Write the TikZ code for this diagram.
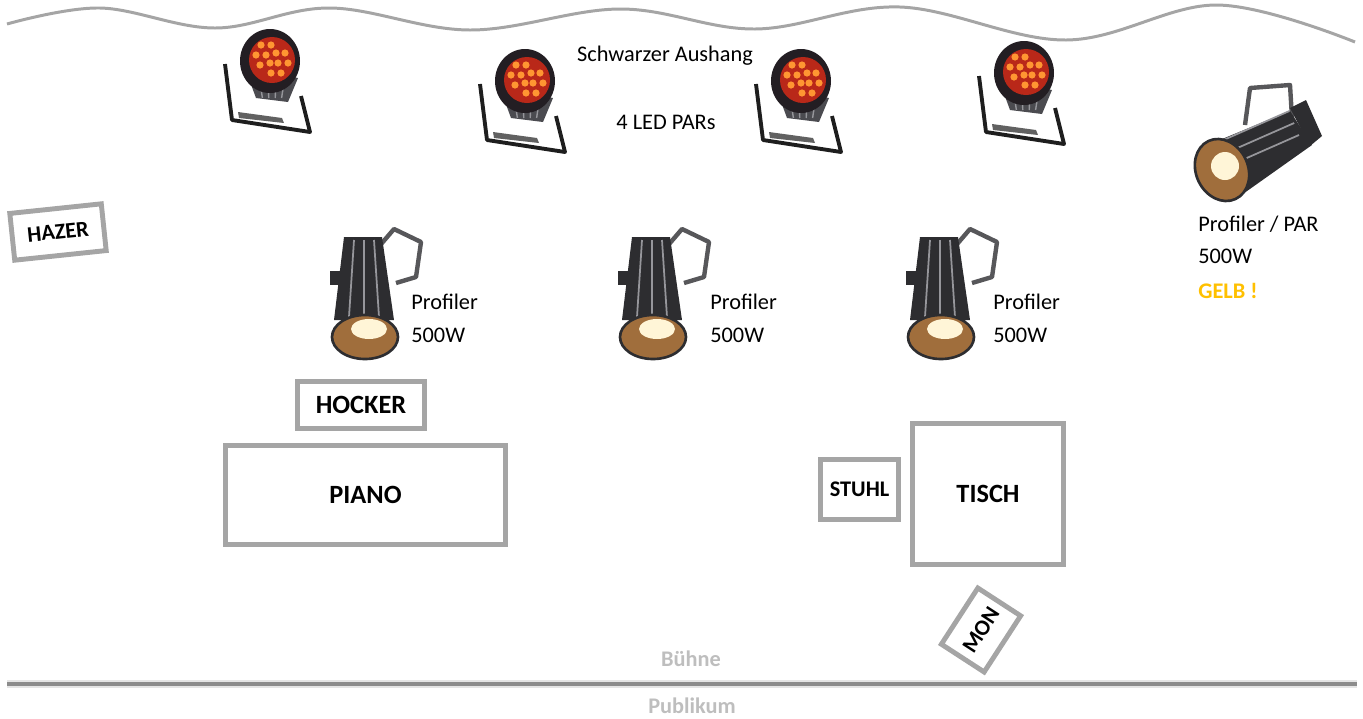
\documentclass[tikz,border=0pt]{standalone}
\usepackage{fontspec}
\setmainfont{Carlito}
\usetikzlibrary{shapes.geometric}
\definecolor{boxgray}{RGB}{165,165,165}
\definecolor{stagegray}{RGB}{140,140,140}
\definecolor{lblgray}{RGB}{190,190,190}
\definecolor{gelb}{RGB}{255,192,0}
\definecolor{ledface}{RGB}{185,40,25}
\definecolor{ledorange}{RGB}{255,150,50}
\definecolor{parshell}{RGB}{35,30,35}
\definecolor{parbody}{RGB}{75,75,80}
\definecolor{yokeblack}{RGB}{30,30,30}
\definecolor{profbody}{RGB}{45,45,48}
\definecolor{profstripe}{RGB}{150,150,155}
\definecolor{bronze}{RGB}{160,110,60}
\definecolor{lenswhite}{RGB}{255,245,215}

\begin{document}
\begin{tikzpicture}[x=0.02cm,y=-0.02cm]
\tikzstyle{box}=[rectangle, draw=boxgray, line width=2.8pt, inner sep=0pt]
\tikzstyle{lbl}=[font=\fontsize{12.7}{15}\selectfont, inner sep=0pt]
\tikzstyle{blbl}=[font=\fontsize{12.7}{15}\selectfont\bfseries, inner sep=0pt]
\tikzstyle{big}=[font=\fontsize{15}{18}\selectfont\bfseries]
\tikzstyle{curtain}=[draw=boxgray, line width=1.7pt]
\tikzset{
  ledpar/.pic={
    \draw[line width=2.2pt, yokeblack, line join=round] (-47,4) -- (-40,60) -- (38,72) -- (29,36);
    \fill[yokeblack!70] (-34,52) -- (10,58) -- (12,63) -- (-33,58) -- cycle;
    \fill[parbody] (-27,8) -- (26,18) -- (16,42) -- (-16,38) -- cycle;
    \foreach \i in {-12,-4,4,12}
      \draw[profstripe, line width=0.8pt] (\i,22) -- (\i*0.8,38);
    \fill[parshell] (-2,1) ellipse [x radius=30, y radius=32];
    \fill[ledface] (0,0) circle [radius=23];
    \foreach \x/\y in {-11/-15,-1/-15,-16/-5,-6/-5,4/-7,13/-7,-12/5,-2/3,6/3,16/3,-1/13,9/13}
      \fill[ledorange] (\x,\y) circle [radius=3.6];
  },
  profiler/.pic={
    \draw[line width=2.5pt, profbody!80, line join=round] (12,-45) -- (30,-66) -- (57,-53) -- (52,-18) -- (32,-12);
    \fill[profbody] (-20,-58) -- (18,-58) -- (30,25) -- (-30,25) -- cycle;
    \foreach \x in {-10,0,10}
      \draw[profstripe, line width=1pt] (\x,-55) -- (\x*1.5,22);
    \fill[profbody] (-34,-24) rectangle (-20,-10);
    \fill[bronze] (1,42) ellipse [x radius=33, y radius=22];
    \draw[profbody, line width=1.5pt] (1,42) ellipse [x radius=33, y radius=22];
    \fill[lenswhite] (5,34) ellipse [x radius=18, y radius=10];
  },
  bigprofiler/.pic={
    \draw[line width=2.5pt, profbody!80, line join=round] (-5,-25) -- (0,-62) -- (40,-65) -- (42,-32);
    \fill[profbody] (-40,-6) -- (40,-39) -- (62,-5) -- (-10,46) -- cycle;
    \foreach \s in {-14,-2,10}
      \draw[profstripe, line width=1pt] (-30+\s*0.4,8+\s) -- (45+\s*0.4,-25+\s);
    \fill[profbody] (40,-42) -- (56,-50) -- (72,-14) -- (60,-4) -- cycle;
    \fill[bronze, rotate around={25:(-28,20)}] (-28,20) ellipse [x radius=26, y radius=32];
    \draw[profbody, line width=1.5pt, rotate around={25:(-28,20)}] (-28,20) ellipse [x radius=26, y radius=32];
    \fill[lenswhite] (-25,16) circle [radius=14];
  }
}
\useasboundingbox (0,0) rectangle (1363,718);

% curtain
\draw[curtain] plot[smooth, tension=0.6] coordinates {(7,24) (100,8) (215,28) (330,8) (470,30) (620,9) (755,29) (900,7) (1066,40) (1217,5) (1355,42)};

% LED PARs
\pic (par1) at (272,60) {ledpar};
\pic (par2) at (527,80) {ledpar};
\pic (par3) at (803,80) {ledpar};
\pic (par4) at (1026,72) {ledpar};
\node[lbl, anchor=base] (aushang) at (665,61) {Schwarzer Aushang};
\node[lbl, anchor=base] (ledpars) at (666,129) {4 LED PARs};

% profilers
\pic (p1) at (364,295) {profiler};
\pic (p2) at (652,295) {profiler};
\pic (p3) at (940,295) {profiler};
\pic (p4) at (1250,150) {bigprofiler};
\node[lbl, anchor=base west] (t1) at (411,309) {Profiler};
\node[lbl, anchor=base west] (w1) at (411,342) {500W};
\node[lbl, anchor=base west] (t2) at (710,309) {Profiler};
\node[lbl, anchor=base west] (w2) at (710,342) {500W};
\node[lbl, anchor=base west] (t3) at (993,309) {Profiler};
\node[lbl, anchor=base west] (w3) at (993,342) {500W};
\node[lbl, anchor=base west] (t4) at (1198,231) {Profiler / PAR};
\node[lbl, anchor=base west] (w4) at (1198,263) {500W};
\node[blbl, anchor=base west, text=gelb] (gelb) at (1198,298) {GELB !};

% props
\node[box, big, minimum width=2.54cm, minimum height=0.94cm] (hocker) at (361,405) {HOCKER};
\node[box, big, minimum width=5.6cm, minimum height=1.98cm] (piano) at (365.5,495) {PIANO};
\node[box, blbl, minimum width=1.56cm, minimum height=1.2cm] (stuhl) at (859.5,489.5) {STUHL};
\node[box, big, minimum width=3.02cm, minimum height=2.82cm] (tisch) at (988,494) {TISCH};
\node[box, blbl, minimum width=1.84cm, minimum height=0.94cm, rotate=6] (hazer) at (58,232) {HAZER};
\node[box, blbl, minimum width=1.34cm, minimum height=1.02cm, rotate=57] (mon) at (981,630) {MON};

% stage edge
\draw[line width=4.5pt, gray!20] (7,684) -- (1357,684);
\draw[line width=2.5pt, stagegray] (7,684) -- (1357,684);
\node[blbl, text=lblgray] (buehne) at (691,659) {Bühne};
\node[blbl, text=lblgray] (publikum) at (692,706) {Publikum};
\end{tikzpicture}
\end{document}
